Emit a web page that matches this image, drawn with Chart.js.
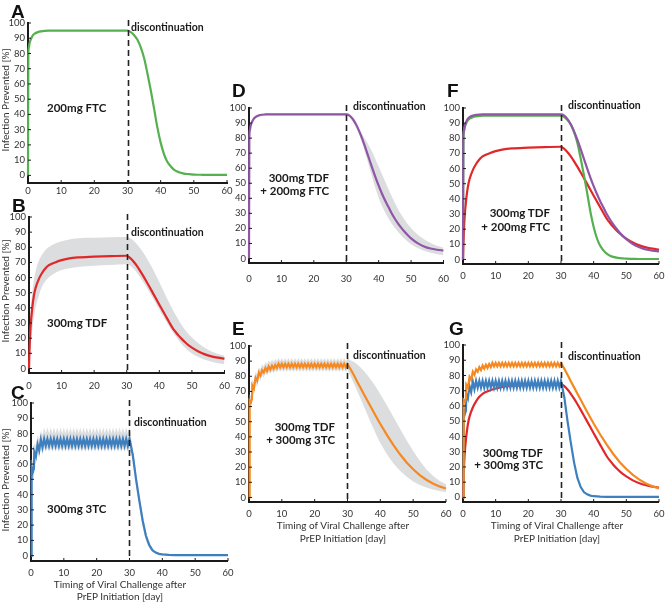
<!DOCTYPE html>
<html>
<head>
<meta charset="utf-8">
<script src="https://cdn.jsdelivr.net/npm/chart.js@4.4.1/dist/chart.umd.min.js"></script>
<style>
  html, body { margin: 0; padding: 0; background: #fff; }
  #fig { position: relative; width: 667px; height: 603px; overflow: hidden; font-family: Lato, sans-serif; }
  #fig canvas { position: absolute; }
  .t { position: absolute; white-space: nowrap; line-height: 1; color: #1a1a1a; z-index: 2; }
  .letter { font: bold 19px "Liberation Sans", Arial, sans-serif; color: #111; }
  .disc { font: bold 10.5px Lato, sans-serif; transform: translateY(-50%); }
  .drug { font: bold 11.5px Lato, sans-serif; transform: translateY(-50%); }
  .drugR { font: bold 11.5px Lato, sans-serif; transform: translate(-100%, -50%); }
  .ytitle { font: 10px Lato, sans-serif; color: #333; transform: translate(-50%, -50%) rotate(-90deg); }
  .xtitle { font: 10px Lato, sans-serif; color: #333; transform: translate(-50%, -50%); }
</style>
</head>
<body>
<div id="fig">
  <div class="t letter" style="left:11px;top:1px">A</div>
  <div class="t letter" style="left:12px;top:195px">B</div>
  <div class="t letter" style="left:11px;top:382px">C</div>
  <div class="t letter" style="left:232px;top:80px">D</div>
  <div class="t letter" style="left:232px;top:318px">E</div>
  <div class="t letter" style="left:447px;top:80px">F</div>
  <div class="t letter" style="left:449px;top:318px">G</div>

  <div class="t disc" style="left:131px;top:27px">discontinuation</div>
  <div class="t disc" style="left:131px;top:232px">discontinuation</div>
  <div class="t disc" style="left:134px;top:422px">discontinuation</div>
  <div class="t disc" style="left:353px;top:106px">discontinuation</div>
  <div class="t disc" style="left:353px;top:355px">discontinuation</div>
  <div class="t disc" style="left:568px;top:105px">discontinuation</div>
  <div class="t disc" style="left:568px;top:356px">discontinuation</div>

  <div class="t drug" style="left:47px;top:107px">200mg FTC</div>
  <div class="t drug" style="left:47px;top:322px">300mg TDF</div>
  <div class="t drug" style="left:47px;top:508px">300mg 3TC</div>
  <div class="t drugR" style="left:329px;top:177px">300mg TDF</div>
  <div class="t drugR" style="left:329px;top:190px">+ 200mg FTC</div>
  <div class="t drugR" style="left:335px;top:426px">300mg TDF</div>
  <div class="t drugR" style="left:335px;top:439px">+ 300mg 3TC</div>
  <div class="t drugR" style="left:550px;top:212px">300mg TDF</div>
  <div class="t drugR" style="left:550px;top:226px">+ 200mg FTC</div>
  <div class="t drugR" style="left:543px;top:452px">300mg TDF</div>
  <div class="t drugR" style="left:543px;top:464px">+ 300mg 3TC</div>

  <div class="t ytitle" style="left:5px;top:100px">Infection Prevented [%]</div>
  <div class="t ytitle" style="left:5px;top:291px">Infection Prevented [%]</div>
  <div class="t ytitle" style="left:5px;top:480px">Infection Prevented [%]</div>

  <div class="t xtitle" style="left:120px;top:584px">Timing of Viral Challenge after</div>
  <div class="t xtitle" style="left:120px;top:596px">PrEP Initiation [day]</div>
  <div class="t xtitle" style="left:343px;top:525px">Timing of Viral Challenge after</div>
  <div class="t xtitle" style="left:343px;top:538px">PrEP Initiation [day]</div>
  <div class="t xtitle" style="left:557px;top:525px">Timing of Viral Challenge after</div>
  <div class="t xtitle" style="left:557px;top:538px">PrEP Initiation [day]</div>
</div>
<script>
// ticks and the day PrEP is stopped
const stopDay = 30;
const xTicks = [0, 10, 20, 30, 40, 50, 60];
const yTicks = [0, 10, 20, 30, 40, 50, 60, 70, 80, 90, 100];

// smooth curves (FTC, TDF, TDF+FTC), sampled on these days
const smoothDays = [0, 0.1, 0.25, 0.5, 1, 1.5, 2, 3, 4, 5, 6, 8, 10, 12, 15, 20, 25, 30,
  31, 32, 33, 34, 35, 36, 37, 38, 39, 40, 41, 42, 43, 44, 45, 46, 47, 48, 49, 50,
  52, 54, 56, 58, 60];

const ftcMean = [0, 78, 84, 87, 90, 92, 93, 94, 94.5, 94.8, 95, 95, 95, 95, 95, 95, 95, 95,
  94, 92, 89, 84, 77, 67, 56, 44, 31.5, 21.5, 14, 9, 6, 3.8, 2.5, 1.7, 1.2, 0.9, 0.7, 0.5,
  0.4, 0.3, 0.3, 0.3, 0.3];

const tdfMean = [0, 8, 17, 28, 40, 48, 53, 59, 63, 66, 68, 70, 71.5, 72.5, 73.3, 73.8, 74.2, 74.4,
  73, 70.8, 68, 64.8, 61.3, 57.6, 53.8, 49.9, 46, 42.1, 38.3, 34.5, 30.7, 27, 24.1, 21.5, 19.2, 17.1, 15.3, 13.8,
  11.2, 9.3, 8, 7.1, 6.5];
const tdfHigh = [0, 12, 25, 37, 50, 58, 64, 71, 75, 78, 80, 82.5, 84, 85, 86, 86.3, 86.6, 86.8,
  86.1, 84.6, 82.3, 79.7, 76.7, 73.3, 69.6, 65.6, 61.3, 56.9, 52.4, 47.9, 43.5, 39.3, 35.3, 31.6, 28.2, 25.2, 22.6, 20.4,
  16.6, 13.6, 11.2, 9.6, 8.5];
const tdfLow = [0, 3, 8, 15, 25, 34, 40, 48, 54, 57.5, 60, 63, 65, 66, 67, 67.8, 68.3, 68.8,
  67.9, 66.1, 63.6, 60.6, 57.3, 53.8, 50.2, 46.5, 42.7, 38.9, 35.1, 31.4, 27.8, 24.4, 21.2, 18.3, 15.7, 13.5, 11.5, 9.9,
  7.5, 5.8, 4.5, 3.5, 2.9];

const tdfFtcMean = [0, 80, 85, 88, 91, 93, 94, 95, 95.5, 95.7, 95.8, 95.8, 95.8, 95.8, 95.8, 95.8, 95.8, 95.8,
  95, 92.7, 89.2, 84.6, 79.1, 73, 66.6, 60.2, 54.1, 48.4, 43.2, 38.5, 34.3, 30, 26.4, 23.2, 20.3, 17.7, 15.4, 13.4,
  10.2, 8, 6.6, 5.8, 5.3];
const tdfFtcHigh = [0, 81, 86, 89, 91.8, 93.8, 94.8, 95.8, 96.2, 96.4, 96.5, 96.5, 96.5, 96.5, 96.5, 96.5, 96.5, 96.5,
  95.8, 93.3, 89.8, 85.9, 82.2, 78.8, 75, 70.7, 66, 61.1, 56.1, 51.1, 46.2, 41.5, 37, 32.8, 29, 25.7, 22.8, 20.3,
  16, 12.8, 10.3, 8.5, 7.2];
const tdfFtcLow = [0, 79, 84, 87, 90.2, 92.2, 93.2, 94.2, 94.8, 95, 95.1, 95.1, 95.1, 95.1, 95.1, 95.1, 95.1, 95.1,
  94.3, 91.2, 87.1, 82, 76, 69, 61.5, 53.8, 46.6, 40.4, 35.1, 30.6, 26.7, 23.3, 20.3, 17.6, 15.2, 13.1, 11.2, 9.5,
  7, 5.1, 3.8, 2.8, 2.2];

// curves with daily dosing ripples (3TC, TDF+3TC)
const oscDays = [0, 0.1, 0.3, 0.6, 0.9,
  1, 1.5, 2, 2.5, 3, 3.5, 4, 4.5,
  5, 5.5, 6, 6.5, 7, 7.5, 8, 8.5, 9, 9.5, 10, 10.5, 11, 11.5, 12, 12.5, 13, 13.5, 14, 14.5, 15, 15.5, 16, 16.5, 17, 17.5,
  18, 18.5, 19, 19.5, 20, 20.5, 21, 21.5, 22, 22.5, 23, 23.5, 24, 24.5, 25, 25.5, 26, 26.5, 27, 27.5, 28, 28.5, 29, 29.5,
  30,
  31, 32, 33, 34, 35, 36, 37, 38, 39, 40,
  42, 44, 46, 48, 50, 52, 54, 56, 58, 60];

const lamMean = [0, 52, 58, 55, 57,
  68, 65, 73, 69, 76, 71, 76.5, 72,
  76.5, 72, 76.5, 72, 76.5, 72, 76.5, 72, 76.5, 72, 76.5, 72, 76.5, 72, 76.5, 72, 76.5, 72, 76.5, 72, 76.5, 72, 76.5, 72, 76.5, 72,
  76.5, 72, 76.5, 72, 76.5, 72, 76.5, 72, 76.5, 72, 76.5, 72, 76.5, 72, 76.5, 72, 76.5, 72, 76.5, 72, 76.5, 72, 76.5, 72,
  76.5,
  66, 50, 36, 23, 13, 7, 3.5, 2, 1.2, 0.8,
  0.5, 0.4, 0.4, 0.4, 0.4, 0.4, 0.4, 0.4, 0.4, 0.4];
const lamHigh = [0, 56, 63, 62, 64,
  74, 72, 79, 76, 82, 79, 84, 80,
  84, 80, 84, 80, 84, 80, 84, 80, 84, 80, 84, 80, 84, 80, 84, 80, 84, 80, 84, 80, 84, 80, 84, 80, 84, 80,
  84, 80, 84, 80, 84, 80, 84, 80, 84, 80, 84, 80, 84, 80, 84, 80, 84, 80, 84, 80, 84, 80, 84, 80,
  84,
  70, 55, 40, 27, 16, 9, 5, 2.8, 1.8, 1.2,
  0.8, 0.7, 0.6, 0.6, 0.6, 0.6, 0.6, 0.6, 0.6, 0.6];
const lamLow = [0, 48, 53, 49, 51,
  62, 60, 67, 64, 70, 66, 70.5, 68,
  70.5, 68, 70.5, 68, 70.5, 68, 70.5, 68, 70.5, 68, 70.5, 68, 70.5, 68, 70.5, 68, 70.5, 68, 70.5, 68, 70.5, 68, 70.5, 68, 70.5, 68,
  70.5, 68, 70.5, 68, 70.5, 68, 70.5, 68, 70.5, 68, 70.5, 68, 70.5, 68, 70.5, 68, 70.5, 68, 70.5, 68, 70.5, 68, 70.5, 68,
  70.5,
  62, 45, 32, 19, 10, 5, 2.3, 1.2, 0.6, 0.3,
  0.2, 0.2, 0.2, 0.2, 0.2, 0.2, 0.2, 0.2, 0.2, 0.2];

const tdfLamMean = [0, 60, 64, 63, 65,
  74, 72, 79, 77, 82.5, 80.5, 84, 82.5,
  85.5, 83.5, 86.5, 84.5, 87, 85, 87.5, 85.5,
  88.3, 86, 88.3, 86, 88.3, 86, 88.3, 86, 88.3, 86, 88.3, 86, 88.3, 86, 88.3, 86, 88.3, 86,
  88.3, 86, 88.3, 86, 88.3, 86, 88.3, 86, 88.3, 86, 88.3, 86, 88.3, 86, 88.3, 86, 88.3, 86, 88.3, 86, 88.3, 86, 88.3, 86,
  88,
  84.5, 80.5, 76.3, 72.2, 68.2, 64.2, 60.2, 56.2, 52.3, 48.5,
  41.3, 34.6, 28.5, 23.1, 18.6, 14.8, 11.7, 9.2, 7.3, 5.9];
const tdfLamHigh = [0, 64, 68, 67, 69,
  78, 76, 83, 81, 86, 84.5, 88, 86.5,
  89.5, 88, 90.5, 89, 91, 89.5, 91.5, 90,
  92, 90, 92, 90, 92, 90, 92, 90, 92, 90, 92, 90, 92, 90, 92, 90, 92, 90,
  92, 90, 92, 90, 92, 90, 92, 90, 92, 90, 92, 90, 92, 90, 92, 90, 92, 90, 92, 90, 92, 90, 92, 90,
  92,
  90.5, 89.5, 87.8, 85.8, 83.5, 80.9, 78.1, 75, 71.7, 68.2,
  60.9, 53.2, 45.4, 37.8, 30.6, 24.2, 18.7, 14.3, 11.1, 8.8];
const tdfLamLow = [0, 56, 60, 59, 61,
  70, 68, 75, 73, 79, 77, 80.5, 79,
  82, 80.5, 83, 81.5, 83.5, 82, 84, 82.5,
  84.5, 83, 84.5, 83, 84.5, 83, 84.5, 83, 84.5, 83, 84.5, 83, 84.5, 83, 84.5, 83, 84.5, 83,
  84.5, 83, 84.5, 83, 84.5, 83, 84.5, 83, 84.5, 83, 84.5, 83, 84.5, 83, 84.5, 83, 84.5, 83, 84.5, 83, 84.5, 83, 84.5, 83,
  84.5,
  79.5, 75, 70.2, 65.2, 60.1, 55, 49.9, 45, 40.3, 35.9,
  28.5, 22.5, 17.6, 13.6, 10.6, 8.3, 6.5, 5.2, 4.3, 3.6];

const colors = {
  ftc: '#55b04f', tdf: '#e0282a', lam: '#3d7fbf',
  tdfFtc: '#8f56a6', tdfLam: '#f5891f', band: '#dcdddf'
};

Chart.defaults.font.family = 'Lato, sans-serif';

const fig = document.getElementById('fig');
const PAD_L = 36, PAD_T = 12, PAD_R = 10, PAD_B = 24;

function pts(days, vals) {
  return days.map((d, i) => ({ x: d, y: vals[i] }));
}

function lineSet(days, vals, color, smooth) {
  return {
    data: pts(days, vals), borderColor: color, borderWidth: 2.2,
    pointRadius: 0, fill: false, tension: 0, clip: false,
    cubicInterpolationMode: smooth ? 'monotone' : 'default'
  };
}

function bandSets(days, hi, lo, smooth) {
  const mode = smooth ? 'monotone' : 'default';
  return [
    { data: pts(days, hi), borderWidth: 0, pointRadius: 0, fill: '+1', backgroundColor: colors.band,
      tension: 0, cubicInterpolationMode: mode, clip: false },
    { data: pts(days, lo), borderWidth: 0, pointRadius: 0, fill: false,
      tension: 0, cubicInterpolationMode: mode, clip: false }
  ];
}

// dashed discontinuation line + small inward tick marks
const decor = {
  id: 'decor',
  afterDatasetsDraw(chart) {
    const { ctx, chartArea: a, scales: { x, y } } = chart;
    ctx.save();
    ctx.strokeStyle = '#1a1a1a';
    ctx.lineWidth = 1;
    ctx.beginPath();
    yTicks.forEach(v => {
      const py = y.getPixelForValue(v);
      ctx.moveTo(a.left, py); ctx.lineTo(a.left + 3, py);
    });
    xTicks.forEach(v => {
      const px = x.getPixelForValue(v);
      ctx.moveTo(px, a.bottom); ctx.lineTo(px, a.bottom - 3);
    });
    ctx.stroke();

    const sx = Math.round(x.getPixelForValue(stopDay)) + 0.5;
    ctx.setLineDash([6, 4]);
    ctx.lineWidth = 1.6;
    ctx.strokeStyle = '#222';
    ctx.beginPath();
    ctx.moveTo(sx, a.top - 3);
    ctx.lineTo(sx, a.bottom);
    ctx.stroke();
    ctx.restore();
  }
};

function panel(box, yMin, xPad, datasets) {
  const [left, right, top, bottom] = box;
  const w = Math.round(right - left) + PAD_L + PAD_R;
  const h = Math.round(bottom - top) + PAD_T + PAD_B;
  const cv = document.createElement('canvas');
  cv.width = w;
  cv.height = h;
  cv.style.left = Math.round(left - PAD_L) + 'px';
  cv.style.top = Math.round(top - PAD_T) + 'px';
  fig.appendChild(cv);

  new Chart(cv, {
    type: 'line',
    data: { datasets },
    options: {
      responsive: false,
      animation: false,
      events: [],
      layout: { padding: { top: PAD_T, right: PAD_R, left: 0, bottom: 0 } },
      plugins: { legend: { display: false }, tooltip: { enabled: false } },
      scales: {
        x: {
          type: 'linear', min: 0, max: 60,
          grid: { display: false, drawTicks: false },
          border: { display: true, color: '#1a1a1a', width: 2 },
          ticks: { color: '#333', font: { size: 9.5 }, padding: xPad, maxRotation: 0, autoSkip: false },
          afterBuildTicks: s => { s.ticks = xTicks.map(v => ({ value: v })); },
          afterFit: s => { s.height = PAD_B; }
        },
        y: {
          type: 'linear', min: yMin, max: 100,
          grid: { display: false, drawTicks: false },
          border: { display: true, color: '#1a1a1a', width: 2 },
          ticks: { color: '#333', font: { size: 9.5 }, padding: 3, autoSkip: false },
          afterBuildTicks: s => { s.ticks = yTicks.map(v => ({ value: v })); },
          afterFit: s => { s.width = PAD_L; }
        }
      }
    },
    plugins: [decor]
  });
}

// A: FTC
panel([28, 227, 23, 183], -5, 2, [
  lineSet(smoothDays, ftcMean, colors.ftc, true)
]);
// B: TDF
panel([29, 227, 217, 373], -3, 7, [
  lineSet(smoothDays, tdfMean, colors.tdf, true),
  ...bandSets(smoothDays, tdfHigh, tdfLow, true)
]);
// C: 3TC
panel([31, 230, 403, 561], -3.5, 6.5, [
  lineSet(oscDays, lamMean, colors.lam, false),
  ...bandSets(oscDays, lamHigh, lamLow, false)
]);
// D: TDF + FTC
panel([249, 449, 108, 263], -3, 10, [
  lineSet(smoothDays, tdfFtcMean, colors.tdfFtc, true),
  ...bandSets(smoothDays, tdfFtcHigh, tdfFtcLow, true)
]);
// E: TDF + 3TC
panel([249, 448, 346, 502], -3, 6.5, [
  lineSet(oscDays, tdfLamMean, colors.tdfLam, false),
  ...bandSets(oscDays, tdfLamHigh, tdfLamLow, false)
]);
// F: overlay of FTC, TDF and TDF+FTC
panel([463, 661, 108, 264], -3, 6.5, [
  lineSet(smoothDays, tdfFtcMean, colors.tdfFtc, true),
  lineSet(smoothDays, ftcMean, colors.ftc, true),
  lineSet(smoothDays, tdfMean, colors.tdf, true)
]);
// G: overlay of 3TC, TDF and TDF+3TC
panel([463, 661, 345, 502], -3, 6.5, [
  lineSet(oscDays, tdfLamMean, colors.tdfLam, false),
  lineSet(oscDays, lamMean, colors.lam, false),
  lineSet(smoothDays, tdfMean, colors.tdf, true)
]);
</script>
</body>
</html>
